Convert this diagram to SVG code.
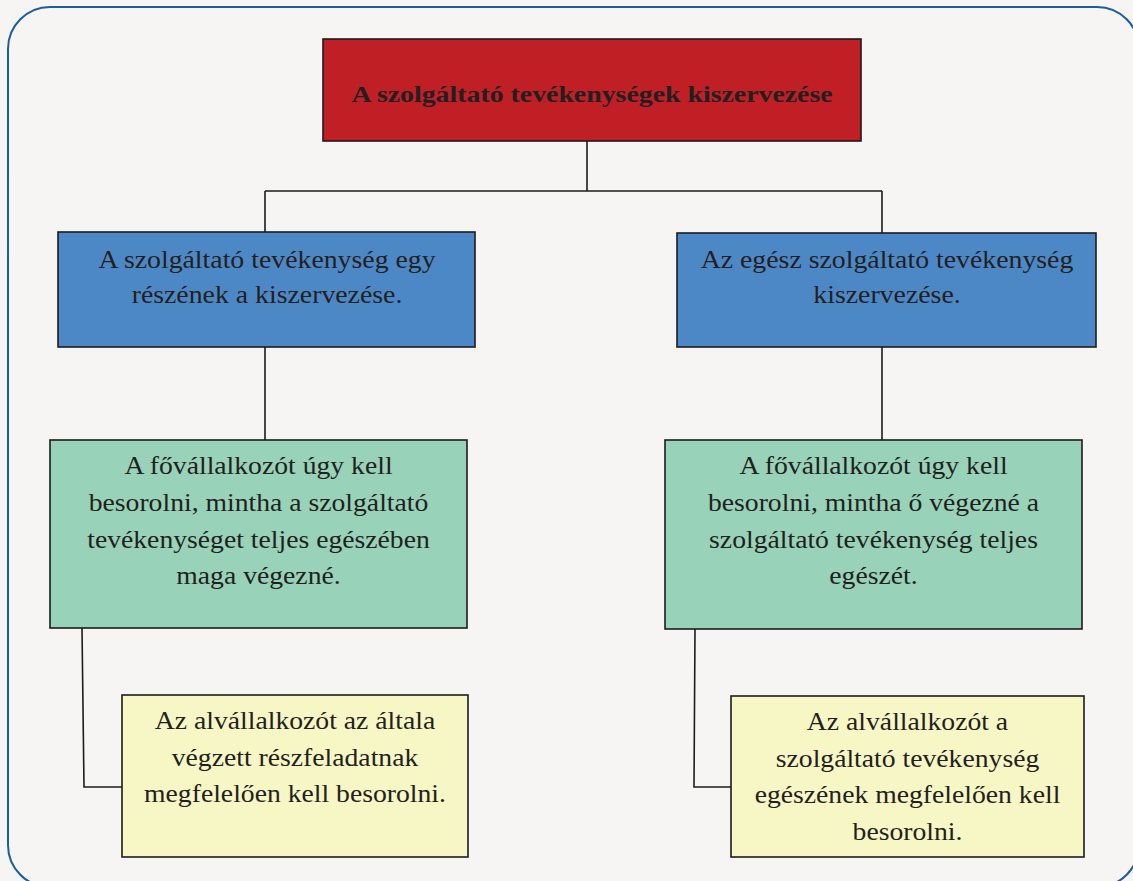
<svg xmlns="http://www.w3.org/2000/svg" width="1133" height="881" viewBox="0 0 1133 881">
<style>
.box{stroke:#1c1c1c;stroke-width:1.6}
.red{fill:#c01f26}
.blue{fill:#4d88c6}
.green{fill:#98d2b9}
.yellow{fill:#f7f6c5}
.t{font-family:"Liberation Serif","Times New Roman",serif;font-size:24.5px;fill:#231f20;text-anchor:middle}
.tb{font-family:"Liberation Serif","Times New Roman",serif;font-size:23px;font-weight:bold;fill:#231f20;text-anchor:middle}
.conn{fill:none;stroke:#1c1c1c;stroke-width:1.6}
</style>
<rect x="0" y="0" width="1133" height="881" fill="#f6f5f3"/>
<rect x="8" y="7" width="1131" height="880" rx="42" ry="42" fill="none" stroke="#1a5e9e" stroke-width="2"/>
<g id="connectors">
<path class="conn" d="M587 141 V191 M265 191 H882 M265 191 V232 M882 191 V233"/>
<path class="conn" d="M265 347 V440 M882 347 V440"/>
<path class="conn" d="M82 628 L84 787 H122 M695 629 L694 787 H731"/>
</g>
<g id="root">
<rect class="box red" x="323" y="39" width="538" height="102"/>
<g transform="translate(592 0) scale(1.21 1)"><text class="tb" x="0" y="102">A szolgáltató tevékenységek kiszervezése</text></g>
</g>
<g id="part">
<rect class="box blue" x="58" y="232" width="417" height="115"/>
<g transform="translate(267 0) scale(1.135 1)"><text class="t" x="0" y="268">A szolgáltató tevékenység egy</text><text class="t" x="0" y="303">részének a kiszervezése.</text></g>
</g>
<g id="whole">
<rect class="box blue" x="677" y="233" width="419" height="114"/>
<g transform="translate(887 0) scale(1.135 1)"><text class="t" x="0" y="268">Az egész szolgáltató tevékenység</text><text class="t" x="0" y="303">kiszervezése.</text></g>
</g>
<g id="main-left">
<rect class="box green" x="50" y="440" width="417" height="188"/>
<g transform="translate(258.5 0) scale(1.13 1)"><text class="t" x="0" y="474">A fővállalkozót úgy kell</text><text class="t" x="0" y="511">besorolni, mintha a szolgáltató</text><text class="t" x="0" y="548">tevékenységet teljes egészében</text><text class="t" x="0" y="584">maga végezné.</text></g>
</g>
<g id="main-right">
<rect class="box green" x="665" y="440" width="417" height="189"/>
<g transform="translate(873.5 0) scale(1.13 1)"><text class="t" x="0" y="474">A fővállalkozót úgy kell</text><text class="t" x="0" y="511">besorolni, mintha ő végezné a</text><text class="t" x="0" y="548">szolgáltató tevékenység teljes</text><text class="t" x="0" y="584">egészét.</text></g>
</g>
<g id="sub-left">
<rect class="box yellow" x="122" y="695" width="346" height="162"/>
<g transform="translate(295 0) scale(1.13 1)"><text class="t" x="0" y="729">Az alvállalkozót az általa</text><text class="t" x="0" y="766">végzett részfeladatnak</text><text class="t" x="0" y="802">megfelelően kell besorolni.</text></g>
</g>
<g id="sub-right">
<rect class="box yellow" x="731" y="696" width="353" height="161"/>
<g transform="translate(907.5 0) scale(1.13 1)"><text class="t" x="0" y="730">Az alvállalkozót a</text><text class="t" x="0" y="767">szolgáltató tevékenység</text><text class="t" x="0" y="803">egészének megfelelően kell</text><text class="t" x="0" y="840">besorolni.</text></g>
</g>
</svg>
